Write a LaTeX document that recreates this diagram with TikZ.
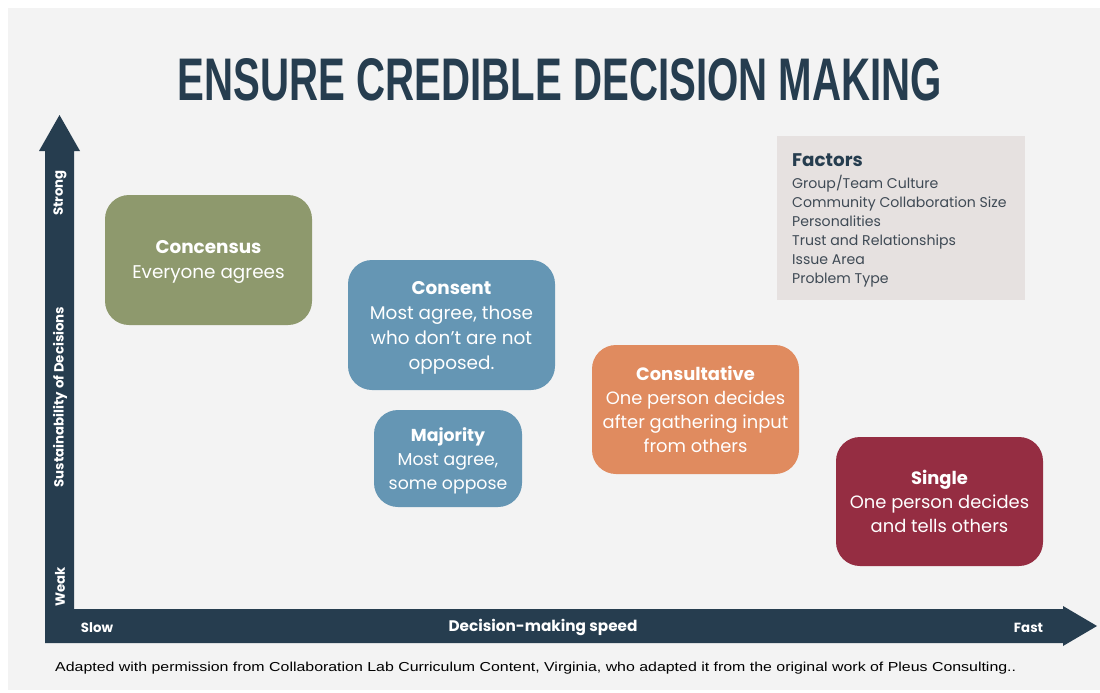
\documentclass[tikz,border=0pt]{standalone}
\usepackage{fontspec}
\usepackage{graphicx}
\setmainfont{Poppins}
\newfontfamily\titlefont{Liberation Sans}
\newfontfamily\condfont{Liberation Sans}
\definecolor{navy}{HTML}{263D4F}
\definecolor{bgray}{HTML}{F3F3F3}
\definecolor{cgreen}{HTML}{8E996D}
\definecolor{cblue}{HTML}{6596B4}
\definecolor{corange}{HTML}{E08B5F}
\definecolor{cred}{HTML}{952D42}
\definecolor{fbox}{HTML}{E6E1E0}
\definecolor{ftext}{HTML}{3F4A55}
\tikzset{
  dbox/.style={rounded corners=24pt, inner sep=0pt},
  dtext/.style={text=white, align=center, inner sep=0pt},
  axlabel/.style={text=white, font=\fontsize{13.3pt}{15pt}\selectfont\bfseries, inner sep=0pt},
}
\begin{document}
\begin{tikzpicture}[x=1pt,y=-1pt]
\useasboundingbox (0,0) rectangle (1100,693);
\fill[white] (0,0) rectangle (1100,693);
\fill[bgray] (8,8) rectangle (1100,690);
% title
\node[text=navy, inner sep=0pt, anchor=base] (title) at (560,100)
  {\resizebox{764pt}{42pt}{\titlefont\bfseries ENSURE CREDIBLE DECISION MAKING}};
% axes
\fill[navy] (45,643) -- (45,151) -- (39,151) -- (59.5,115) -- (80,151) -- (74,151)
  -- (74,609) -- (1063,609) -- (1063,606) -- (1097,626) -- (1063,646) -- (1063,643) -- cycle;
\node[axlabel, rotate=90] (strong) at (60,193) {Strong};
\node[axlabel, rotate=90] (sust) at (60,397) {Sustainability of Decisions};
\node[axlabel, rotate=90] (weak) at (60,587) {Weak};
\node[axlabel] (slow) at (97,627.5) {Slow};
\node[axlabel, font=\fontsize{15.3pt}{17pt}\selectfont\bfseries] (speed) at (543,627) {Decision-making speed};
\node[axlabel] (fast) at (1028.5,627.5) {Fast};
% boxes
\node[dbox, fill=cgreen, minimum width=207pt, minimum height=130pt] (cons) at (208.5,260) {};
\node[dtext, font=\fontsize{18.4pt}{25pt}\selectfont] (consT) at ([yshift=-2pt]cons.center)
  {\textbf{Concensus}\\Everyone agrees};
\node[dbox, fill=cblue, minimum width=207pt, minimum height=130pt] (consent) at (451.5,325) {};
\node[dtext, font=\fontsize{18.4pt}{25pt}\selectfont] (consentT) at ([yshift=-3pt]consent.center)
  {\textbf{Consent}\\Most agree, those\\who don’t are not\\opposed.};
\node[dbox, fill=cblue, minimum width=148pt, minimum height=97pt] (maj) at (448,458.5) {};
\node[dtext, font=\fontsize{17.3pt}{24pt}\selectfont] (majT) at ([yshift=-2pt]maj.center)
  {\textbf{Majority}\\Most agree,\\some oppose};
\node[dbox, fill=corange, minimum width=207pt, minimum height=129pt] (consult) at (695.5,409.5) {};
\node[dtext, font=\fontsize{17.9pt}{24pt}\selectfont] (consultT) at (consult.center)
  {\textbf{Consultative}\\One person decides\\after gathering input\\from others};
\node[dbox, fill=cred, minimum width=207pt, minimum height=129pt] (single) at (939.5,501.5) {};
\node[dtext, font=\fontsize{17.9pt}{24pt}\selectfont] (singleT) at (single.center)
  {\textbf{Single}\\One person decides\\and tells others};
% factors
\fill[fbox] (777,136) rectangle (1025,300);
\node[anchor=north west, inner sep=0pt, text=ftext, align=left,
  font=\fontsize{14.1pt}{19pt}\selectfont] (factors) at (792,153)
  {{\fontsize{18.3pt}{21pt}\selectfont\bfseries\color{navy}Factors}\\[3pt]Group/Team Culture\\Community Collaboration Size\\Personalities\\Trust and Relationships\\Issue Area\\Problem Type};
% footer
\node[anchor=west, inner sep=0pt, text=black] (foot) at (55,668)
  {\resizebox{961pt}{\height}{\condfont\fontsize{13pt}{15pt}\selectfont Adapted with permission from Collaboration Lab Curriculum Content, Virginia, who adapted it from the original work of Pleus Consulting..}};
\end{tikzpicture}
\end{document}
